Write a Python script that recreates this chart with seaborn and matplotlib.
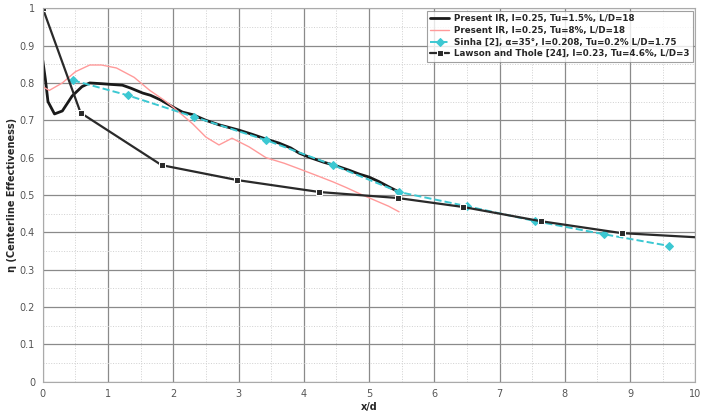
import numpy as np
import pandas as pd
import matplotlib
matplotlib.use("Agg")
import matplotlib.pyplot as plt
import seaborn as sns

# Present IR, Tu=1.5%
ir15_x = [0.0, 0.04, 0.08, 0.18, 0.3, 0.45, 0.6, 0.72, 0.9, 1.05, 1.22, 1.35, 1.53, 1.65, 1.8, 2.0, 2.14,
          2.3, 2.5, 2.7, 3.0, 3.2, 3.4, 3.62, 3.8, 3.93, 4.1, 4.3, 4.5, 4.7, 4.85, 5.0, 5.15, 5.3, 5.46]
ir15_y = [0.86, 0.81, 0.75, 0.717, 0.725, 0.765, 0.79, 0.80, 0.798, 0.796, 0.794, 0.786, 0.773, 0.767,
          0.755, 0.735, 0.722, 0.715, 0.70, 0.688, 0.674, 0.663, 0.651, 0.639, 0.626, 0.612, 0.60, 0.588,
          0.578, 0.566, 0.556, 0.548, 0.536, 0.522, 0.508]

# Present IR, Tu=8%
ir8_x = [0.0, 0.1, 0.3, 0.5, 0.72, 0.9, 1.13, 1.4, 1.64, 1.85, 2.0, 2.1, 2.3, 2.5, 2.7, 2.9, 3.16,
         3.42, 3.7, 3.93, 4.2, 4.45, 4.65, 4.9, 5.1, 5.3, 5.46]
ir8_y = [0.79, 0.78, 0.80, 0.83, 0.848, 0.848, 0.84, 0.815, 0.78, 0.755, 0.735, 0.72, 0.69, 0.655,
         0.634, 0.652, 0.629, 0.60, 0.585, 0.570, 0.552, 0.535, 0.52, 0.50, 0.485, 0.47, 0.455]

# Sinha [2]
sinha_x = [0.46, 1.3, 2.32, 3.42, 4.45, 5.46, 6.5, 7.55, 8.6, 9.59]
sinha_y = [0.807, 0.767, 0.709, 0.647, 0.58, 0.508, 0.47, 0.43, 0.395, 0.364]

# Lawson and Thole [24]
lawson_x = [0.0, 0.58, 1.82, 2.98, 4.24, 5.44, 6.44, 7.63, 8.87, 10.0]
lawson_y = [1.0, 0.72, 0.58, 0.54, 0.508, 0.492, 0.468, 0.43, 0.398, 0.387]

labels = ["Present IR, I=0.25, Tu=1.5%, L/D=18",
          "Present IR, I=0.25, Tu=8%, L/D=18",
          "Sinha [2], \u03b1=35\u00b0, I=0.208, Tu=0.2% L/D=1.75",
          "Lawson and Thole [24], I=0.23, Tu=4.6%, L/D=3"]

sns.set_style("white")
fig = plt.figure(figsize=(7.01, 4.11), dpi=100)
ax = fig.add_axes([0.061, 0.071, 0.931, 0.909])

sns.lineplot(x=ir15_x, y=ir15_y, ax=ax, color="#1a1a1a", lw=2.0, label=labels[0], sort=False)
sns.lineplot(x=ir8_x, y=ir8_y, ax=ax, color="#ff9a9a", lw=1.0, label=labels[1], sort=False)
sns.lineplot(x=sinha_x, y=sinha_y, ax=ax, color="#3cc8d2", lw=1.4, ls="--", marker="D", ms=4,
             mec="#3cc8d2", label=labels[2], sort=False)
sns.lineplot(x=lawson_x, y=lawson_y, ax=ax, color="#2a2a2a", lw=1.6, marker="s", ms=4.5,
             markevery=list(range(len(lawson_x) - 1)), label=labels[3], sort=False)

ax.set_xlim(0, 10)
ax.set_ylim(0, 1)
ax.set_xticks(range(0, 11))
ax.set_yticks(np.arange(0, 1.01, 0.1))
ax.set_yticklabels(["0", "0.1", "0.2", "0.3", "0.4", "0.5", "0.6", "0.7", "0.8", "0.9", "1"])
ax.set_xticks(np.arange(0.5, 10, 1.0), minor=True)
ax.set_yticks(np.arange(0.05, 1, 0.1), minor=True)
ax.grid(True, which="major", color="#8a8a8a", lw=0.9)
ax.grid(True, which="minor", color="#d0d0d0", lw=0.7, ls=":")
ax.tick_params(axis="both", which="major", labelsize=7, colors="#555555", length=2)
ax.tick_params(axis="both", which="minor", length=0)
for s in ax.spines.values():
    s.set_color("#aaaaaa")

ax.set_xlabel("x/d", fontsize=7, fontweight="bold", labelpad=2)
ax.set_ylabel("\u03b7 (Centerline Effectiveness)", fontsize=7, fontweight="bold", labelpad=2)

leg = ax.legend(loc="upper right", prop={"weight": "bold", "size": 6.3}, frameon=True,
                fancybox=False, edgecolor="#888888", handlelength=2.2, borderaxespad=0.3,
                labelspacing=0.3, handletextpad=0.5)
leg.get_frame().set_linewidth(0.8)

fig.savefig("out.png", dpi=100)
